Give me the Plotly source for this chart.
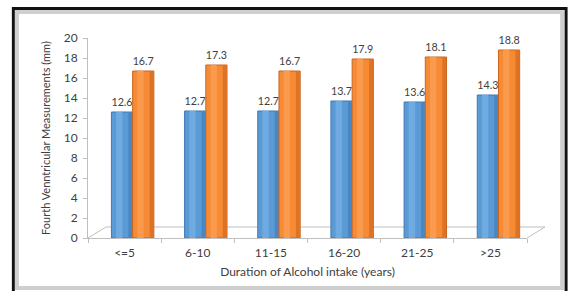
import plotly.graph_objects as go

categories = ["<=5", "6-10", "11-15", "16-20", "21-25", ">25"]
series_a = [12.6, 12.7, 12.7, 13.7, 13.6, 14.3]
series_b = [16.7, 17.3, 16.7, 17.9, 18.1, 18.8]
y_ticks = list(range(0, 21, 2))

FONT = "Lato, Liberation Sans, sans-serif"
TXT = "#404040"
W = 0.29
OFF_A = -0.18
OFF_B = 0.11

fig = go.Figure()


def cylinder(values, off, base, light, dark, edge, name):
    # body
    fig.add_trace(go.Bar(
        x=categories, y=values, width=W, offset=off, name=name,
        marker=dict(color=base, line=dict(color=edge, width=1)),
        text=[f"{v:.1f}" for v in values], textposition="outside",
        textfont=dict(size=12, color=TXT, family=FONT), cliponaxis=False,
        showlegend=False, hoverinfo="y"))
    # highlight strip
    fig.add_trace(go.Bar(
        x=categories, y=values, width=W * 0.3, offset=off + W * 0.22,
        marker=dict(color=light, line=dict(width=0)),
        showlegend=False, hoverinfo="skip"))
    # shaded edge strip
    fig.add_trace(go.Bar(
        x=categories, y=values, width=W * 0.18, offset=off + W * 0.8,
        marker=dict(color=dark, line=dict(width=0)),
        showlegend=False, hoverinfo="skip"))


cylinder(series_a, OFF_A, "#5B9BD5", "#6FAAE0", "#4A86C2", "#3F78B3", "A")
cylinder(series_b, OFF_B, "#F68A35", "#F99A4C", "#DD7325", "#C9651F", "B")

shapes = []
# outer frame with inner shadow
shapes.append(dict(type="rect", xref="paper", yref="paper",
                   x0=-0.170, x1=1.089, y0=-0.275, y1=1.1475,
                   line=dict(color="#111111", width=3), layer="below"))
shapes.append(dict(type="rect", xref="paper", yref="paper",
                   x0=-0.162, x1=1.080, y0=-0.25, y1=1.13,
                   line=dict(color="#CFCFCF", width=4), layer="below"))
# 3D floor outline
dx, dy = 18 / 439, 11 / 200
fl = dict(color="#BFBFBF", width=1)
shapes.append(dict(type="line", xref="paper", yref="paper", x0=0, y0=0, x1=dx, y1=dy, line=fl))
shapes.append(dict(type="line", xref="paper", yref="paper", x0=1, y0=0, x1=1 + dx, y1=dy, line=fl))
shapes.append(dict(type="line", xref="paper", yref="paper", x0=dx, y0=dy, x1=1 + dx, y1=dy, line=fl, layer="below"))

fig.update_layout(
    width=568, height=291,
    margin=dict(l=88, r=41, t=38, b=53),
    paper_bgcolor="white", plot_bgcolor="rgba(0,0,0,0)",
    font=dict(family=FONT, color=TXT, size=12),
    shapes=shapes,
    barmode="overlay",
    xaxis=dict(
        type="category", range=[-0.5, 5.5], automargin=False,
        showline=True, linecolor="#BFBFBF", linewidth=1,
        ticks="outside", tickson="boundaries", ticklen=4, tickcolor="#BFBFBF",
        ticklabelstandoff=4,
        tickfont=dict(size=12, color=TXT),
        title=dict(text="Duration of Alcohol intake (years)", font=dict(size=12, color=TXT), standoff=8),
        showgrid=False, zeroline=False, fixedrange=True),
    yaxis=dict(
        range=[0, 20], tickvals=y_ticks, automargin=False,
        showline=True, linecolor="#BFBFBF", linewidth=1,
        ticks="outside", ticklen=4, tickcolor="#BFBFBF",
        ticklabelstandoff=3,
        tickfont=dict(size=12, color=TXT),
        title=dict(text="Fourth Venntricular Measurements (mm)", font=dict(size=11, color=TXT), standoff=10),
        showgrid=False, zeroline=False, fixedrange=True),
)

fig.write_html("out.html", config={"displayModeBar": False},
               post_script="document.body.style.margin='0';document.body.style.overflow='hidden';")
